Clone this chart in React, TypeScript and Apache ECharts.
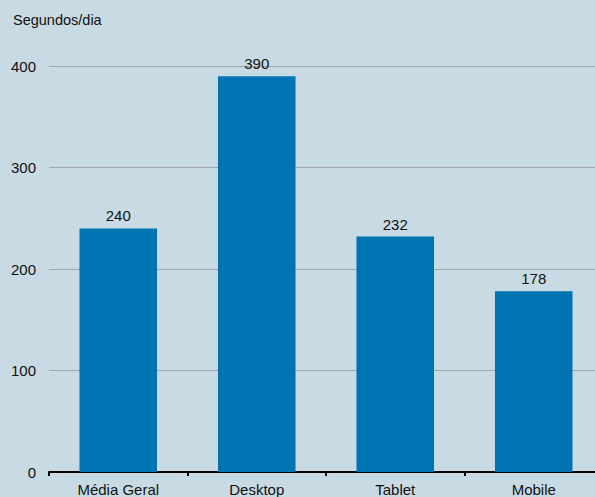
import React, { useEffect, useRef } from "react";
import * as echarts from "echarts";

const categories = ["Média Geral", "Desktop", "Tablet", "Mobile"];
const values = [240, 390, 232, 178];
const yTicks = [0, 100, 200, 300, 400];
const yTitle = "Segundos/dia";

export default function App() {
  const ref = useRef<HTMLDivElement>(null);
  useEffect(() => {
    const chart = echarts.init(ref.current!, null, { renderer: "svg" });
    const font = "Liberation Sans, Arial, sans-serif";
    chart.setOption({
      animation: false,
      backgroundColor: "#c8dbe4",
      textStyle: { fontFamily: font },
      graphic: [
        {
          type: "text",
          left: 13,
          top: 12,
          style: { text: yTitle, fontSize: 14.5, fill: "#111", fontFamily: font },
        },
      ],
      grid: { left: 49, top: 66, width: 554, height: 406, containLabel: false },
      xAxis: {
        type: "category",
        data: categories,
        axisLine: { show: true, lineStyle: { color: "#000", width: 2 } },
        axisTick: { show: true, alignWithLabel: false, length: 4, lineStyle: { color: "#000", width: 2 } },
        axisLabel: { color: "#111", fontSize: 15, margin: 10, fontFamily: font },
      },
      yAxis: {
        type: "value",
        min: yTicks[0],
        max: yTicks[yTicks.length - 1],
        interval: 100,
        axisLine: { show: false },
        axisTick: { show: false },
        axisLabel: { color: "#111", fontSize: 15, margin: 13, fontFamily: font },
        splitLine: { show: true, lineStyle: { color: "#a3a6a8", width: 1 } },
      },
      series: [
        {
          type: "bar",
          data: values,
          barWidth: "56%",
          itemStyle: { color: "#0074b2" },
          label: { show: true, position: "top", distance: 5, color: "#111", fontSize: 15, fontFamily: font },
        },
      ],
    });
    return () => chart.dispose();
  }, []);
  return (
    <div style={{ width: 595, height: 497, position: "absolute", left: 0, top: 0, overflow: "hidden" }}>
      <div ref={ref} style={{ width: 620, height: 497 }} />
    </div>
  );
}
